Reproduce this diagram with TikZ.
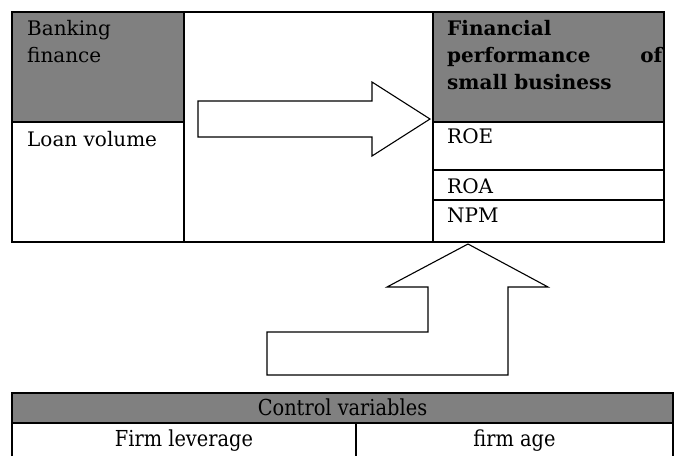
\documentclass[tikz,border=0pt]{standalone}
\usepackage{fontspec}
\setmainfont{DejaVu Serif}
\newfontfamily\narrowserif[FakeStretch=0.88]{DejaVu Serif}
\begin{document}
\begin{tikzpicture}[x=1pt,y=-1pt,
every node/.style={inner sep=0pt},
tableline/.style={line width=1.6pt},
graycell/.style={fill=gray},
celltext/.style={anchor=north west,align=left,font=\fontsize{20}{27}\selectfont},
ctrltext/.style={anchor=base,font=\narrowserif\fontsize{22}{26}\selectfont},
blockarrow/.style={draw,fill=white,line width=1.1pt,line join=miter}]

\useasboundingbox (0,0) rectangle (676,456);

% upper table
\fill[graycell] (12,12) rectangle (184,122);
\fill[graycell] (433,12) rectangle (664,122);
\draw[tableline] (12,12) rectangle (664,242);
\draw[tableline] (184,12) -- (184,242) (433,12) -- (433,242);
\draw[tableline] (12,122) -- (184,122);
\draw[tableline] (433,122) -- (664,122) (433,170) -- (664,170) (433,200) -- (664,200);

\node[celltext] (bank) at (27,19.8) {Banking\\finance};
\node[celltext] (loan) at (27,130.8) {Loan volume};
\node[celltext,text width=215,font=\fontsize{20}{27}\selectfont\bfseries] (perf) at (447,19.8)
  {Financial\\performance\hfill of\\small business};
\node[celltext] (roe) at (447,128.4) {ROE};
\node[celltext] (roa) at (447,178.4) {ROA};
\node[celltext] (npm) at (447,207.4) {NPM};

% block arrows
\draw[blockarrow] (198,101) -- (372,101) -- (372,82) -- (430,119) -- (372,156)
  -- (372,137) -- (198,137) -- cycle;
\draw[blockarrow] (267,332) -- (428,332) -- (428,287) -- (387,287) -- (468,244)
  -- (548,287) -- (508,287) -- (508,375) -- (267,375) -- cycle;

% control variables
\fill[graycell] (12,393) rectangle (673,423);
\draw[tableline] (12,456) -- (12,393) -- (673,393) -- (673,456);
\draw[tableline] (12,423) -- (673,423) (356,423) -- (356,456);

\node[ctrltext] (ctrl) at (342.5,415) {Control variables};
\node[ctrltext] (lev) at (184,446) {Firm leverage};
\node[ctrltext] (age) at (514.5,446) {firm age};

\end{tikzpicture}
\end{document}
